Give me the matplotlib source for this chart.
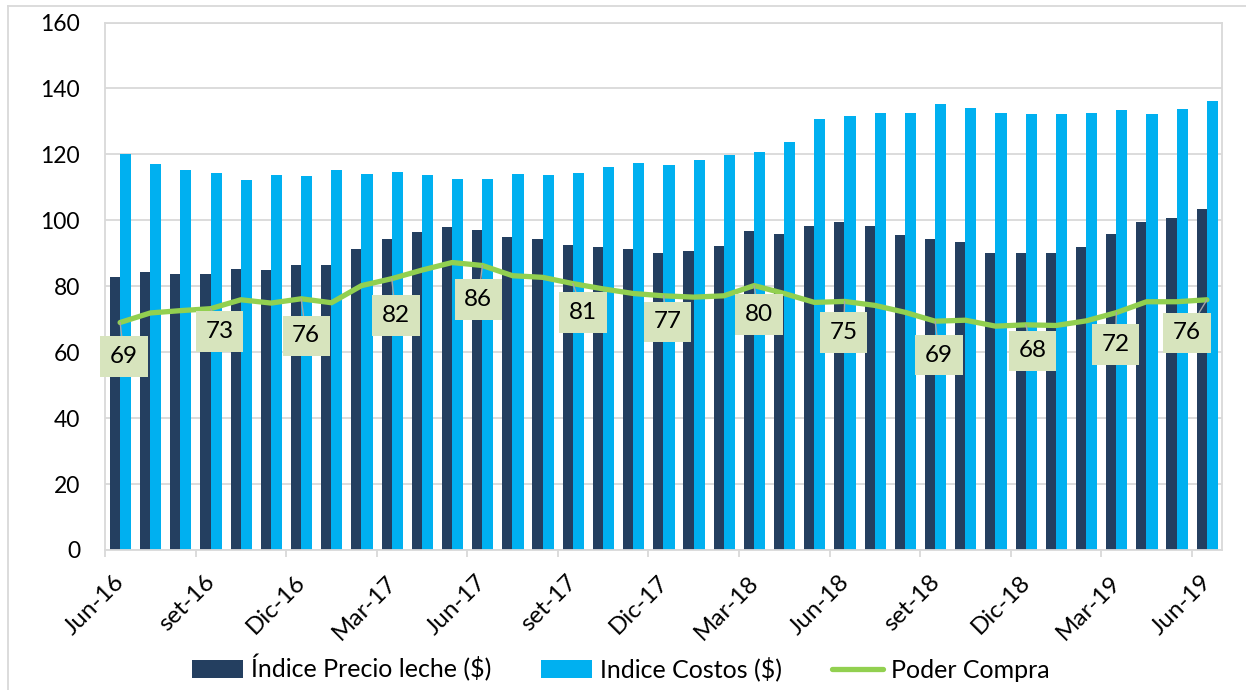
import matplotlib.pyplot as plt
import matplotlib.transforms as mtransforms
from matplotlib.lines import Line2D

plt.rcParams['font.family'] = ['Lato', 'DejaVu Sans']

# datos mensuales jun-16 .. jun-19
precio = [82.9, 84.2, 83.7, 83.7, 85.1, 85.0, 86.4, 86.4, 91.4, 94.3, 96.4, 97.9, 97.0,
          94.8, 94.2, 92.4, 91.9, 91.2, 90.1, 90.8, 92.3, 96.8, 96.0, 98.2, 99.4, 98.2,
          95.5, 94.2, 93.4, 90.0, 90.2, 90.0, 92.0, 96.0, 99.5, 100.8, 103.4]
costos = [120.2, 117.1, 115.4, 114.5, 112.1, 113.6, 113.3, 115.2, 114.0, 114.7, 113.6, 112.4, 112.5,
          113.9, 113.8, 114.5, 116.2, 117.5, 116.8, 118.4, 119.7, 120.7, 123.9, 130.7, 131.6, 132.6,
          132.7, 135.3, 134.2, 132.7, 132.1, 132.1, 132.4, 133.5, 132.3, 133.9, 136.2]
poder = [69.0, 71.9, 72.6, 73.2, 75.9, 74.9, 76.2, 75.0, 80.2, 82.3, 84.9, 87.2, 86.3,
         83.2, 82.7, 80.8, 79.2, 77.8, 77.1, 76.7, 77.1, 80.2, 77.8, 75.1, 75.4, 74.2,
         72.1, 69.4, 69.7, 67.9, 68.3, 68.1, 69.5, 72.0, 75.3, 75.3, 75.9]
etiquetas_x = ['Jun-16', 'set-16', 'Dic-16', 'Mar-17', 'Jun-17', 'set-17', 'Dic-17',
               'Mar-18', 'Jun-18', 'set-18', 'Dic-18', 'Mar-19', 'Jun-19']

# desplazamiento (px) de las etiquetas de datos respecto al punto
offsets = [(4, 34), (9, 23), (5, 37), (4, 37), (-4, 34), (10, 29), (4, 26),
           (5, 29), (-1, 31), (4, 34), (7, 26), (-1, 32), (-20, 33)]

gris = '#D9D9D9'
W, H = 1246, 690
fig = plt.figure(figsize=(W / 100, H / 100), dpi=100)
ax = fig.add_axes([105 / W, 1 - 550 / H, (1222 - 105) / W, (550 - 22.5) / H])

x = list(range(len(precio)))
b1 = ax.bar([i - 0.17 for i in x], precio, width=0.34, color='#243F60', zorder=2,
            label='Índice Precio leche ($)')
b2 = ax.bar([i + 0.18 for i in x], costos, width=0.37, color='#00B0F0', zorder=2,
            label='Indice Costos ($)')
l1, = ax.plot(x, poder, color='#92D050', lw=3.8, zorder=3, solid_joinstyle='round',
              solid_capstyle='round', label='Poder Compra')

for k, i in enumerate(range(0, len(poder), 3)):
    dx, dy = offsets[k]
    ax.annotate(f"{poder[i]:.0f}", xy=(i, poder[i]), xytext=(dx * 0.72, -dy * 0.72),
                textcoords='offset points', ha='center', va='center', fontsize=17.5,
                bbox=dict(boxstyle='square,pad=0.4', fc='#D7E4BD', ec='none'),
                arrowprops=dict(arrowstyle='-', color='#A6A6A6', lw=1, shrinkA=0, shrinkB=0),
                zorder=4)

ax.set_ylim(0, 160)
ax.set_yticks(range(0, 161, 20))
ax.set_xlim(-0.5, len(precio) - 0.5)
pos_x = [i - 0.5 for i in range(0, len(precio), 3)]
ax.set_xticks(pos_x)
ax.set_xticklabels([])

# etiquetas del eje x giradas 45 grados, desplazadas como en Excel
shift = mtransforms.ScaledTranslation(0.16, -0.29, fig.dpi_scale_trans)
for p, lab in zip(pos_x, etiquetas_x):
    ax.text(p, 0, lab, transform=ax.get_xaxis_transform() + shift, rotation=45,
            rotation_mode='anchor', ha='right', va='center', fontsize=17.5)

ax.grid(axis='y', color=gris, lw=1.3, zorder=0)
ax.set_axisbelow(True)
for s in ax.spines.values():
    s.set_color(gris)
    s.set_linewidth(1.3)
ax.tick_params(axis='y', length=0, pad=18, labelsize=16.5)
ax.tick_params(axis='x', length=5, color=gris, width=1.3)

# borde exterior del grafico
fig.add_artist(Line2D([8 / W, 8 / W], [0, 1 - 6 / H], transform=fig.transFigure, color=gris, lw=1.3))
fig.add_artist(Line2D([8 / W, 1], [1 - 6 / H, 1 - 6 / H], transform=fig.transFigure, color=gris, lw=1.3))

fig.legend(handles=[b1, b2, l1], loc='center', bbox_to_anchor=(0.498, 1 - 668 / H), ncol=3,
           frameon=False, fontsize=18, handlelength=2.05, handleheight=0.7, handletextpad=0.3,
           columnspacing=2.0)

fig.savefig('out.png', dpi=100)
